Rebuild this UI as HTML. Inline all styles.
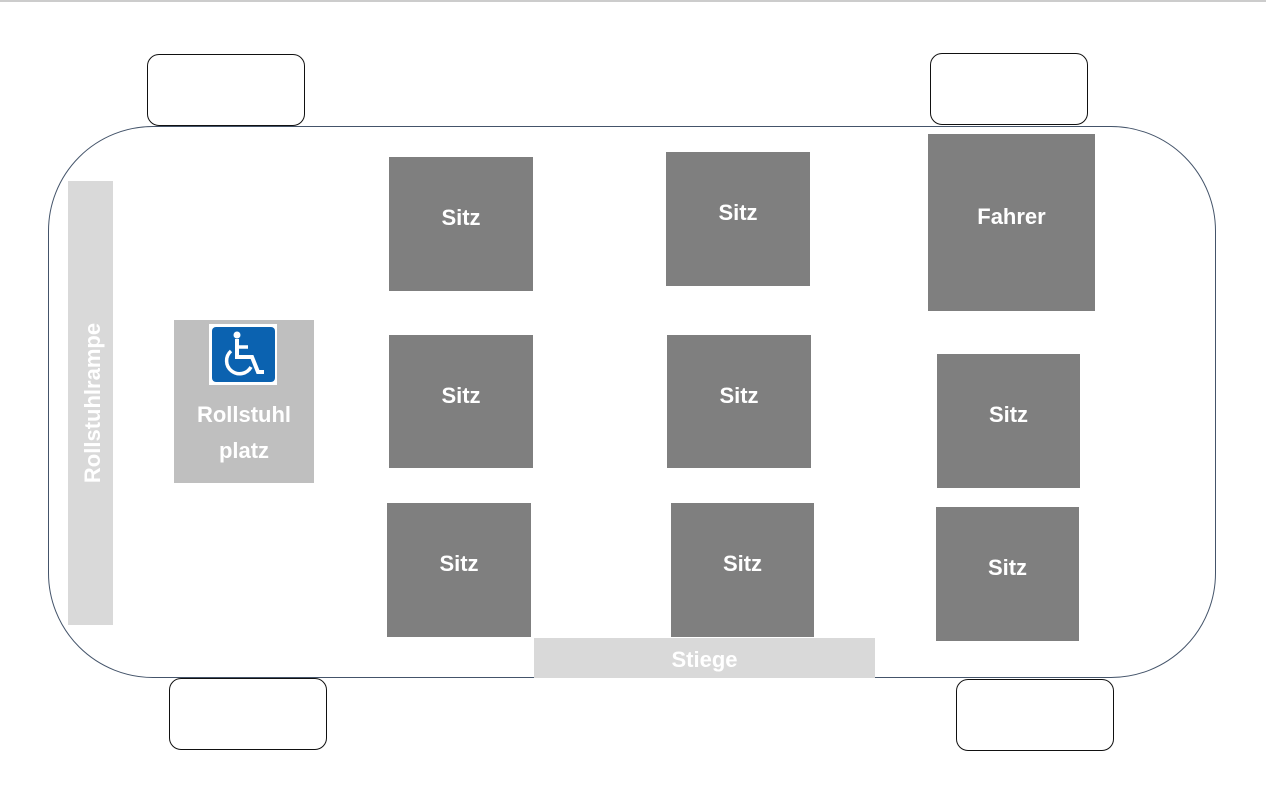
<!DOCTYPE html>
<html><head><style>
body{margin:0;width:1266px;height:800px;background:#fff;position:relative;overflow:hidden;font-family:"Liberation Sans",sans-serif}
div{position:absolute;box-sizing:border-box}
.w{border:1.3px solid #111;border-radius:12px;background:#fff}
.s{background:#7f7f7f;color:#fff;font-weight:bold;font-size:22px;display:flex;align-items:center;justify-content:center;padding-bottom:12px}
</style></head><body>
<div style="left:0;top:0;width:1266px;height:2px;background:#ccc"></div>
<div style="left:48px;top:126px;width:1168px;height:552px;border:1.3px solid #44546a;border-radius:105px;background:#fff"></div>
<div class="w" style="left:147px;top:54px;width:158px;height:72px"></div>
<div class="w" style="left:930px;top:53px;width:158px;height:72px"></div>
<div class="w" style="left:169px;top:678px;width:158px;height:72px"></div>
<div class="w" style="left:956px;top:679px;width:158px;height:72px"></div>
<div style="left:68px;top:181px;width:45px;height:444px;background:#d9d9d9"></div>
<div style="left:93px;top:403px;width:0;height:0"><div style="left:-100px;top:-14px;width:200px;height:28px;transform:rotate(-90deg);color:#fff;font-weight:bold;font-size:22px;text-align:center;line-height:28px">Rollstuhlrampe</div></div>
<div style="left:174px;top:320px;width:140px;height:163px;background:#bfbfbf"></div>
<div style="left:209px;top:324px;width:68px;height:61px;background:#fff"></div>
<div style="left:212px;top:327px;width:63px;height:55px;background:#0b62b0;border-radius:4px">
<svg width="63" height="55" viewBox="0 0 63 55"><circle cx="25" cy="8" r="3.5" fill="#fff"/><path d="M25 12 V30 H40 L46 45 H52" stroke="#fff" stroke-width="4" fill="none"/><path d="M25 20 H36" stroke="#fff" stroke-width="3.5"/><path d="M19 24 A13 13 0 1 0 39 40" stroke="#fff" stroke-width="3.5" fill="none"/></svg></div>
<div style="left:174px;top:397px;width:140px;color:#fff;font-weight:bold;font-size:22px;text-align:center;line-height:36px">Rollstuhl<br>platz</div>
<div class="s" style="left:389px;top:157px;width:144px;height:134px">Sitz</div>
<div class="s" style="left:666px;top:152px;width:144px;height:134px">Sitz</div>
<div class="s" style="left:928px;top:134px;width:167px;height:177px">Fahrer</div>
<div class="s" style="left:389px;top:335px;width:144px;height:133px">Sitz</div>
<div class="s" style="left:667px;top:335px;width:144px;height:133px">Sitz</div>
<div class="s" style="left:937px;top:354px;width:143px;height:134px">Sitz</div>
<div class="s" style="left:387px;top:503px;width:144px;height:134px">Sitz</div>
<div class="s" style="left:671px;top:503px;width:143px;height:134px">Sitz</div>
<div class="s" style="left:936px;top:507px;width:143px;height:134px">Sitz</div>
<div class="s" style="left:534px;top:638px;width:341px;height:40px;background:#d9d9d9;padding-bottom:0;padding-top:4px">Stiege</div>
</body></html>
